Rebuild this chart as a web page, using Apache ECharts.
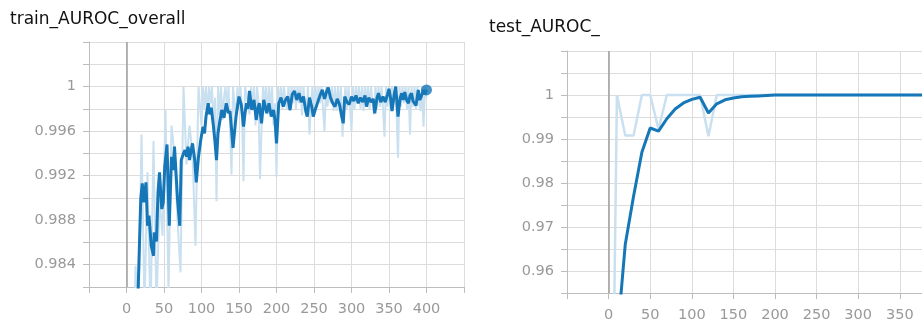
<!DOCTYPE html>
<html>
<head>
<meta charset="utf-8">
<title>AUROC</title>
<script src="https://cdn.jsdelivr.net/npm/echarts@6/dist/echarts.min.js"></script>
<style>
html,body{margin:0;padding:0;background:#fff;}
#chart{width:922px;height:322px;}
</style>
</head>
<body>
<div id="chart"></div>
<script>
// titles
var trainTitle = 'train_AUROC_overall';
var testTitle = 'test_AUROC_';

// train: raw values (light), early part [step, value]
var trainRawEarly = [
    [8,0.9700],[12,0.9839],[16,0.9790],[20,0.9957],[24,0.9800],[28,0.9923],[32,0.9790],[36,0.9951],
    [40,0.9800],[44,0.9900],[48,0.9866],[52,0.9979],[56,0.9815],[60,0.9965],[64,0.9940],[68,0.9880],
    [72,0.9833],[76,1.0000],[80,0.9930],[84,0.9965],[88,0.9940],[92,0.9857],[96,1.0000]
];
// train: raw values from step 100 to 400, every 2 steps
var trainRawLateStart = 100, trainRawLateStep = 2;
var trainRawLate = [
    0.9965,1.0,0.9980,1.0,0.9975,1.0,0.9985,1.0,0.9960,0.9990,
    0.9897,1.0,0.9975,1.0,0.9970,0.9990,1.0,0.9980,1.0,0.9965,
    0.9921,1.0,0.9985,0.9970,1.0,0.9980,1.0,0.9975,0.9915,1.0,
    1.0,0.9985,0.9975,1.0,0.9980,1.0,0.9965,1.0,0.9985,0.9917,
    0.9960,1.0,0.9985,1.0,0.9975,1.0,0.9980,1.0,0.9965,0.9985,
    0.9919,1.0,0.9985,1.0,0.9980,1.0,0.9985,0.9980,1.0,0.9978,
    1.0,0.9985,1.0,0.9980,1.0,0.9985,1.0,0.9974,1.0,0.9982,
    0.9978,1.0,0.9957,0.9985,1.0,0.9978,1.0,0.9982,1.0,0.9985,
    1.0,0.9980,0.9960,1.0,0.9982,1.0,0.9985,1.0,0.9978,1.0,
    0.9978,1.0,0.9982,1.0,0.9955,0.9985,1.0,0.9980,1.0,0.9982,
    0.9960,1.0,0.9980,1.0,0.9985,1.0,0.9980,1.0,0.9978,1.0,
    0.9982,1.0,0.9980,1.0,0.9985,0.9975,1.0,0.9980,1.0,0.9982,
    1.0,0.9980,0.9955,1.0,0.9982,1.0,0.9980,1.0,0.9985,1.0,
    0.9978,0.9936,1.0,0.9982,1.0,0.9985,1.0,0.9980,1.0,0.9957,
    1.0,0.9982,1.0,0.9980,1.0,0.9985,0.9978,1.0,0.9964,1.0,
    0.9990
];
// train: smoothed values (dark) [step, value]
var trainSmooth = [
    [15,0.9805],[19,0.9899],[21,0.9913],[23,0.9896],[26,0.9914],[28,0.9875],[30,0.9884],[33,0.9857],
    [36,0.9848],[37,0.9869],[40,0.9861],[42,0.9905],[44,0.9923],[47,0.9890],[49,0.9896],[51,0.9928],
    [54,0.9948],[57,0.9875],[60,0.9937],[62,0.9925],[64,0.9946],[68,0.9899],[71,0.9875],[73,0.9934],
    [76,0.9940],[78,0.9943],[80,0.9937],[82,0.9946],[84,0.9934],[86,0.9942],[88,0.9949],[91,0.9934],
    [93,0.9914],[96,0.9937],[99,0.9952],[102,0.9964],[104,0.9958],[106,0.9973],[109,0.9985],[111,0.9975],
    [113,0.9981],[116,0.9964],[118,0.9950],[120,0.9934],[122,0.9958],[124,0.9967],[127,0.9979],[130,0.9972],
    [133,0.9985],[136,0.9976],[138,0.9978],[140,0.9962],[142,0.9945],[146,0.9973],[148,0.9982],[150,0.9991],
    [153,0.9984],[156,0.9964],[158,0.9976],[160,0.9985],[162,0.9980],[164,0.9996],[167,0.9979],[170,0.9988],
    [173,0.9970],[175,0.9980],[177,0.9985],[180,0.9967],[183,0.9988],[185,0.9982],[187,0.9976],[190,0.9985],
    [193,0.9973],[196,0.9979],[198,0.9970],[200,0.9949],[203,0.9985],[206,0.9990],[209,0.9982],[212,0.9988],
    [215,0.9991],[218,0.9979],[221,0.9993],[224,0.9996],[227,0.9988],[230,0.9994],[233,0.9986],[236,0.9991],
    [239,0.9978],[241,0.9973],[244,0.9990],[247,0.9982],[249,0.9973],[252,0.9980],[255,0.9986],[258,0.9992],
    [261,0.9997],[264,0.9989],[267,0.9996],[269,0.9999],[272,0.9990],[275,0.9985],[278,0.9982],[281,0.9989],
    [284,0.9984],[287,0.9973],[289,0.9967],[291,0.9991],[294,0.9986],[297,0.9984],[300,0.9991],[303,0.9987],
    [306,0.9992],[309,0.9985],[312,0.9990],[315,0.9986],[318,0.9992],[320,0.9982],[323,0.9990],[326,0.9986],
    [329,0.9989],[331,0.9976],[334,0.9990],[336,0.9994],[339,0.9986],[342,0.9991],[345,0.9986],[348,0.9993],
    [350,0.9998],[352,0.9990],[354,0.9978],[357,0.9993],[359,1.0000],[362,0.9973],[365,0.9990],[367,0.9994],
    [369,0.9988],[371,0.9995],[374,0.9987],[376,0.9985],[378,0.9992],[380,0.9994],[382,0.9987],[384,0.9988],
    [386,0.9983],[389,0.9997],[391,0.9988],[393,0.9991],[396,0.9997],[398,0.9993],[400,0.9997]
];

// test: evaluated every 10 steps
var testSteps = [0,10,20,30,40,50,60,70,80,90,100,110,120,130,140,150,160,170,180,190,200,
    210,220,230,240,250,260,270,280,290,300,310,320,330,340,350,360,370,380,390,400];
var testRaw = [0.850,1,0.9908,0.9908,1,1,0.9922,1,1,1,1,1,0.9906,1,1,1,1,1,1,1,1,
    1,1,1,1,1,1,1,1,1,1,1,1,1,1,1,1,1,1,1,1];
var testSmooth = [0.850,0.944,0.966,0.977,0.987,0.9925,0.9918,0.9946,0.9968,0.9982,0.9990,0.9995,0.9959,
    0.9980,0.9989,0.9993,0.9996,0.9997,0.9998,0.9999,1,
    1,1,1,1,1,1,1,1,1,1,1,1,1,1,1,1,1,1,1,1];

function pairs(xs, ys){
    var res = [];
    for (var i = 0; i < xs.length; i++) res.push([xs[i], ys[i]]);
    return res;
}
// raw train points: early list + the evenly logged tail
var trainRaw = trainRawEarly.slice();
for (var i = 0; i < trainRawLate.length; i++) {
    trainRaw.push([trainRawLateStart + i * trainRawLateStep, trainRawLate[i]]);
}

var lightBlue = '#c9e0f0';
var darkBlue = '#1677b8';
var gridColor = '#dcdcdc';
var labelColor = '#999';
var labelFont = '"DejaVu Sans", sans-serif';

function xAxisOf(gridIndex, maxLabel){
    return {
        type: 'value', gridIndex: gridIndex, min: -50, max: 450, interval: 50,
        axisLine: {onZero: false, lineStyle: {color: '#bdbdbd'}},
        axisTick: {show: true, length: 6, lineStyle: {color: '#bdbdbd'}},
        splitLine: {show: true, lineStyle: {color: gridColor}},
        axisLabel: {
            color: labelColor, fontSize: 14.5, fontFamily: labelFont, margin: 15,
            formatter: function(v){ return (v < 0 || v > maxLabel) ? '' : String(v); }
        }
    };
}

// labels every second grid line, none on the edges
function yAxisOf(gridIndex, min, max, step, base, digits){
    return {
        type: 'value', gridIndex: gridIndex, min: min, max: max, interval: step,
        axisLine: {onZero: false, show: true, lineStyle: {color: '#bdbdbd'}},
        axisTick: {show: true, length: 6, lineStyle: {color: '#bdbdbd'}},
        splitLine: {show: true, lineStyle: {color: gridColor}},
        axisLabel: {
            color: labelColor, fontSize: 14.5, fontFamily: labelFont, margin: 13,
            formatter: function(v){
                var k = Math.round((v - base) / step);
                if (v > 1.00001 || k < 0 || k % 2 !== 0) return '';
                return String(+v.toFixed(digits));
            }
        }
    };
}

var zeroLine = {
    silent: true, symbol: 'none', label: {show: false},
    lineStyle: {color: '#9e9e9e', type: 'solid', width: 1.5},
    data: [{xAxis: 0}]
};

var titleStyle = {fontSize: 17, fontWeight: 'normal', color: '#111', fontFamily: labelFont};

var myChart = echarts.init(document.getElementById('chart'));
var option = {
    animation: false,
    backgroundColor: '#fff',
    title: [
        {text: trainTitle, left: 5, top: 6, textStyle: titleStyle},
        {text: testTitle, left: 484, top: 14, textStyle: titleStyle}
    ],
    grid: [
        {left: 89, top: 42, width: 375, height: 245, outerBoundsMode: 'none'},
        {left: 567, top: 51, width: 416, height: 242, outerBoundsMode: 'none'}
    ],
    xAxis: [xAxisOf(0, 400), xAxisOf(1, 399)],
    yAxis: [
        yAxisOf(0, 0.982, 1.004, 0.002, 0.984, 3),
        yAxisOf(1, 0.955, 1.01, 0.005, 0.96, 2)
    ],
    series: [
        {type: 'line', xAxisIndex: 0, yAxisIndex: 0, data: trainRaw, symbol: 'none',
            lineStyle: {color: lightBlue, width: 2}, markLine: zeroLine, z: 2},
        {type: 'line', xAxisIndex: 0, yAxisIndex: 0, data: trainSmooth, symbol: 'none',
            lineStyle: {color: darkBlue, width: 3}, z: 3},
        {type: 'scatter', xAxisIndex: 0, yAxisIndex: 0, data: [trainSmooth[trainSmooth.length - 1]],
            symbolSize: 11, itemStyle: {color: darkBlue}, z: 4},
        {type: 'line', xAxisIndex: 1, yAxisIndex: 1, data: pairs(testSteps, testRaw), symbol: 'none',
            lineStyle: {color: lightBlue, width: 2.5}, markLine: zeroLine, z: 2},
        {type: 'line', xAxisIndex: 1, yAxisIndex: 1, data: pairs(testSteps, testSmooth), symbol: 'none',
            lineStyle: {color: darkBlue, width: 3}, z: 3}
    ]
};
myChart.setOption(option);
</script>
</body>
</html>
